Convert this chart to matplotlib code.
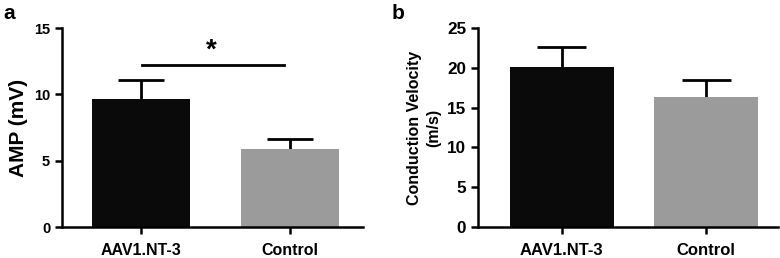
import matplotlib.pyplot as plt

plt.rcParams["font.family"] = ["Liberation Sans", "DejaVu Sans"]
plt.rcParams["font.weight"] = "bold"

groups = ["AAV1.NT-3", "Control"]
amp_mean = [9.65, 5.9]
amp_err = [1.43, 0.72]
cv_mean = [20.1, 16.4]
cv_err = [2.55, 2.1]
bar_colors = ["#0a0a0a", "#9b9b9b"]

fig = plt.figure(figsize=(7.8, 2.58), dpi=100)
ax_a = fig.add_axes([0.0795, 0.120, 0.386, 0.771])
ax_b = fig.add_axes([0.613, 0.120, 0.385, 0.771])


def draw_panel(ax, means, errs, ylim, yticks, ylabel, width, xlim, cap, tick_fs, xlab_fs):
    x = list(range(len(groups)))
    ax.bar(x, means, width=width, color=bar_colors, zorder=2)
    # upper error bars only
    tops = [m + e for m, e in zip(means, errs)]
    ax.vlines(x, means, tops, colors="black", lw=2, zorder=1)
    ax.hlines(tops, [i - cap for i in x], [i + cap for i in x], colors="black", lw=2, zorder=1)
    ax.set_xlim(*xlim)
    ax.set_ylim(*ylim)
    ax.set_yticks(yticks)
    ax.set_xticks(x)
    ax.set_xticklabels(groups, fontsize=xlab_fs, fontweight="bold")
    ax.tick_params(axis="y", labelsize=tick_fs, width=1.8, length=5)
    ax.tick_params(axis="x", width=1.8, length=5, pad=6.5)
    for lbl in ax.get_yticklabels():
        lbl.set_fontweight("bold")
    for s in ["top", "right"]:
        ax.spines[s].set_visible(False)
    for s in ["left", "bottom"]:
        ax.spines[s].set_linewidth(1.8)
    ax.set_ylabel(ylabel, fontweight="bold")


draw_panel(ax_a, amp_mean, amp_err, (0, 15), [0, 5, 10, 15], "AMP (mV)", 0.66,
           (-0.53, 1.49), 0.155, 10.5, 11.5)
draw_panel(ax_b, cv_mean, cv_err, (0, 25), [0, 5, 10, 15, 20, 25],
           "Conduction Velocity\n(m/s)", 0.72, (-0.58, 1.5), 0.17, 12.3, 12)
ax_a.yaxis.label.set_size(15)
ax_b.yaxis.label.set_size(11.5)
ax_b.yaxis.label.set_linespacing(1.35)

# significance bar
ax_a.plot([0.01, 0.96], [12.2, 12.2], color="black", lw=2, clip_on=False)
ax_a.text(0.47, 12.35, "*", ha="center", va="bottom", fontsize=20, fontweight="bold")

fig.text(0.004, 0.985, "a", fontsize=15, fontweight="bold", va="top")
fig.text(0.502, 0.985, "b", fontsize=15, fontweight="bold", va="top")

fig.savefig("out.png", dpi=100)
